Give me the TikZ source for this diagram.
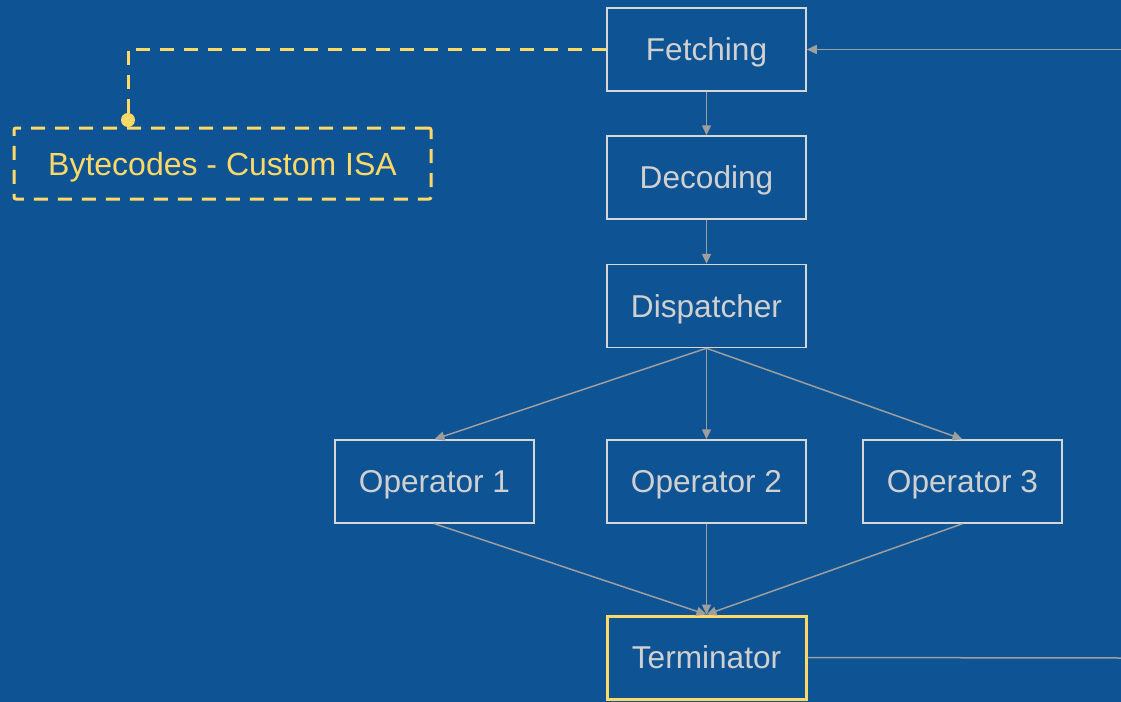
\documentclass[tikz,border=0pt]{standalone}
\usepackage{fontspec}
\setmainfont{Liberation Sans}
\usetikzlibrary{arrows.meta}
\definecolor{bgblue}{RGB}{14,83,148}
\definecolor{boxgrey}{RGB}{214,214,214}
\definecolor{txtgrey}{RGB}{208,208,208}
\definecolor{arrgrey}{RGB}{158,158,158}
\definecolor{gold}{RGB}{255,217,102}
\tikzset{bx/.style={draw=boxgrey, line width=0.75pt, rectangle, minimum width=99.5pt, minimum height=41.5pt, inner sep=0pt, text height=11.3pt, text depth=0pt, text=txtgrey, font=\fontsize{15.8}{18}\selectfont},
         ar/.style={draw=arrgrey, line width=0.75pt, -{Triangle[length=5pt,width=4.5pt]}},
         ra/.style={draw=arrgrey, line width=0.75pt, {Triangle[length=5pt,width=4.5pt]}-},
         ln/.style={draw=arrgrey, line width=0.75pt},
         yd/.style={draw=gold, line width=1.5pt, dash pattern=on 7pt off 5pt}}

\begin{document}
\begin{tikzpicture}[x=0.5pt,y=-0.5pt]
            \fill[bgblue] (0,0) rectangle (1121,702);
            \useasboundingbox (0,0) rectangle (1121,702);
            % main column
            \node[bx] (fetch) at (706.5,49.5) {Fetching};
            \node[bx] (dec) at (706.5,177.5) {Decoding};
            \node[bx] (disp) at (706.5,306) {Dispatcher};
            \node[bx] (op1) at (434.5,481.5) {Operator 1};
            \node[bx] (op2) at (706.5,481.5) {Operator 2};
            \node[bx] (op3) at (962.5,481.5) {Operator 3};
            \node[bx, draw=gold, line width=1.5pt] (term) at (706.5,657.5) {Terminator};
            % bytecode note
            \node[yd, rectangle, rounded corners=1pt, minimum width=208.5pt, minimum height=35.5pt, text height=11.5pt, text depth=0pt, text=gold, font=\fontsize{16}{19}\selectfont] (isa) at (222.5,163.5) {Bytecodes - Custom ISA};
            \coordinate (pin) at (128,120);
            \coordinate (rin) at (1121,49.5);
            \coordinate (rout) at (1121,658);
            \path (fetch) edge[ar] (dec);
            \path (dec) edge[ar] (disp);
            \path (disp.south) edge[ar] (op1.north) edge[ar] (op2.north) edge[ar] (op3.north);
            \path (term.north) edge[ra] (op1.south) edge[ra] (op2.south) edge[ra] (op3.south);
            \path (rin) edge[ar] (fetch.east);
            \path (term.east) edge[ln] (rout);
            \draw[yd] (fetch.west) -| (pin);
            \fill[gold] (pin) circle (3.5pt);
        \end{tikzpicture}
\end{document}
